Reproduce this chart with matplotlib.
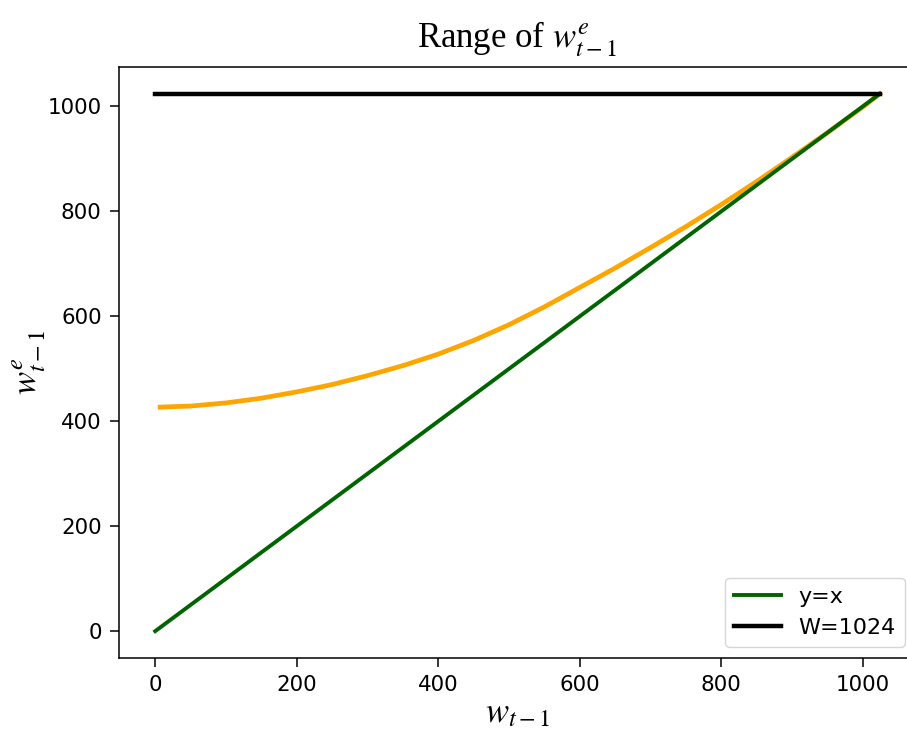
import matplotlib.pyplot as plt

# values
W = 1024
curve_x = [7, 50, 100, 150, 200, 250, 300, 350, 400, 450, 500, 550, 600,
           650, 700, 750, 800, 850, 900, 950, 1000, 1024]
curve_y = [427, 429, 435, 444, 456, 470, 487, 506, 528, 554, 584, 618, 655,
           692, 731, 771, 813, 857, 903, 950, 999, 1024]
line_x = [0, W]
line_y = [0, W]
cap_x = [0, W]
cap_y = [W, W]

plt.rcParams['mathtext.fontset'] = 'stix'

fig = plt.figure(figsize=(9.07, 7.33), dpi=100)
ax = fig.add_axes([0.1312, 0.1023, 0.8787, 0.8063])

ax.plot(curve_x, curve_y, color='orange', lw=3.4)
ax.plot(line_x, line_y, color='darkgreen', lw=2.8, label='y=x')
ax.plot(cap_x, cap_y, color='black', lw=3.2, label='W=1024')

ax.set_xticks([0, 200, 400, 600, 800, 1000])
ax.set_yticks([0, 200, 400, 600, 800, 1000])
ax.tick_params(labelsize=15.4, length=6.5, width=1.1, pad=6)
for s in ax.spines.values():
    s.set_linewidth(1.1)

ax.set_xlabel('$w_{t-1}$', fontsize=25, labelpad=0)
ax.set_ylabel('$w_{t-1}^{e}$', fontsize=25, labelpad=0)
ax.set_title('Range of $w_{t-1}^{e}$', fontsize=25, family='Liberation Serif', pad=14)

ax.legend(loc='lower right', fontsize=16, handlelength=2.1)

fig.savefig('out.png', dpi=100)
